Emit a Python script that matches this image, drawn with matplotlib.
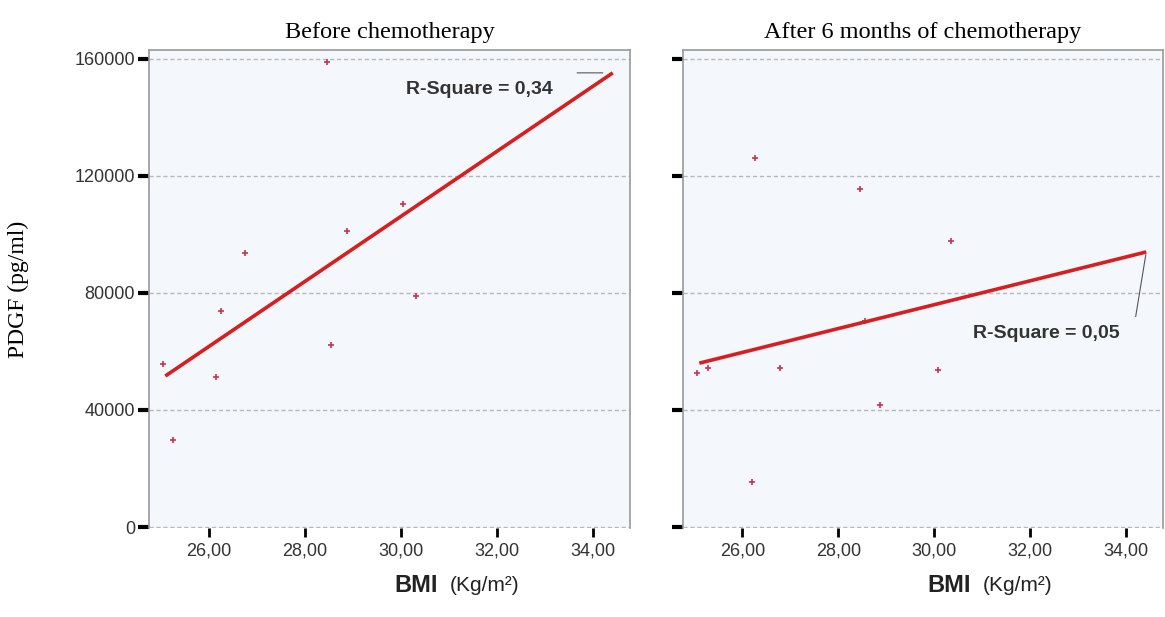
import matplotlib.pyplot as plt

# BMI (Kg/m2) and PDGF (pg/ml)
bmi_before = [25.06, 25.27, 26.15, 26.25, 26.77, 28.46, 28.56, 28.88, 30.06, 30.33]
pdgf_before = [55700, 29700, 51300, 73800, 93700, 159000, 62200, 101200, 110400, 79000]

bmi_after = [25.06, 25.29, 26.19, 26.27, 26.79, 28.46, 28.56, 28.88, 30.09, 30.36]
pdgf_after = [52600, 54400, 15400, 126200, 54400, 115600, 70500, 41700, 53700, 97800]

# fitted regression lines (end points)
fit_x_before = [25.10, 34.42]
fit_y_before = [51600, 155200]
fit_x_after = [25.10, 34.43]
fit_y_after = [56000, 94000]

r2_before = '0,34'
r2_after = '0,05'

titles = ['Before chemotherapy', 'After 6 months of chemotherapy']
xticks = [26, 28, 30, 32, 34]
xticklabels = ['26,00', '28,00', '30,00', '32,00', '34,00']
yticks = [0, 40000, 80000, 120000, 160000]
yticklabels = ['0', '40000', '80000', '120000', '160000']

fig = plt.figure(figsize=(11.65, 6.17), dpi=100)
ax1 = fig.add_axes([0.1279, 0.1442, 0.4129, 0.7747])
ax2 = fig.add_axes([0.5863, 0.1442, 0.4120, 0.7747])

panels = [(ax1, bmi_before, pdgf_before, fit_x_before, fit_y_before),
          (ax2, bmi_after, pdgf_after, fit_x_after, fit_y_after)]

for i, (ax, x, y, fx, fy) in enumerate(panels):
    ax.set_facecolor('#f4f7fb')
    ax.set_xlim(24.76, 34.78)
    ax.set_ylim(-350, 163000)
    for yt in yticks:
        ax.axhline(yt, color='#b8b8b8', lw=1, ls=(0, (3, 2)), zorder=1)
    ax.plot(x, y, '+', color='#c8344e', ms=5, mew=1.2, zorder=3)
    ax.plot(fx, fy, color='#d61f1f', lw=2.6, solid_capstyle='butt', zorder=4)

    ax.set_xticks(xticks)
    ax.set_xticklabels(xticklabels, fontsize=13, color='#333333',
                       family='Liberation Sans')
    ax.set_yticks(yticks)
    if i == 0:
        ax.set_yticklabels(yticklabels, fontsize=13, color='#333333',
                           family='Liberation Sans')
    else:
        ax.set_yticklabels([])
    ax.tick_params(axis='y', length=8, width=3, color='black', pad=2)
    ax.tick_params(axis='x', length=6.5, width=2, color='black', pad=4)

    for s in ['left', 'top', 'right']:
        ax.spines[s].set_color('#9a9a9a')
        ax.spines[s].set_linewidth(1.2)
    ax.spines['bottom'].set_visible(False)

    ax.set_title(titles[i], fontsize=17.5, family='Liberation Serif', pad=9)

    # x label: bold BMI followed by the unit
    ax.text(0.51, -0.12, 'BMI', transform=ax.transAxes, fontsize=17,
            fontweight='bold', family='Liberation Sans', ha='left', va='center',
            color='#222222')
    ax.text(0.625, -0.12, '(Kg/m²)', transform=ax.transAxes, fontsize=15,
            family='Liberation Sans', ha='left', va='center', color='#222222')

# R-square labels with leader lines
ax1.text(31.65, 149500, 'R-Square = ' + r2_before, fontsize=14, fontweight='bold',
         family='Liberation Sans', ha='center', va='center', color='#333333')
ax1.annotate('', xy=(34.27, 155200), xytext=(33.62, 155200),
             arrowprops=dict(arrowstyle='-', color='#555555', lw=0.8))
ax2.text(32.35, 66000, 'R-Square = ' + r2_after, fontsize=14, fontweight='bold',
         family='Liberation Sans', ha='center', va='center', color='#333333')
ax2.annotate('', xy=(34.43, 94000), xytext=(34.2, 71000),
             arrowprops=dict(arrowstyle='-', color='#555555', lw=0.8))

fig.text(0.0155, 0.5316, 'PDGF (pg/ml)', rotation=90, fontsize=17,
         family='Liberation Serif', ha='center', va='center')

fig.savefig('out.png', dpi=100)
